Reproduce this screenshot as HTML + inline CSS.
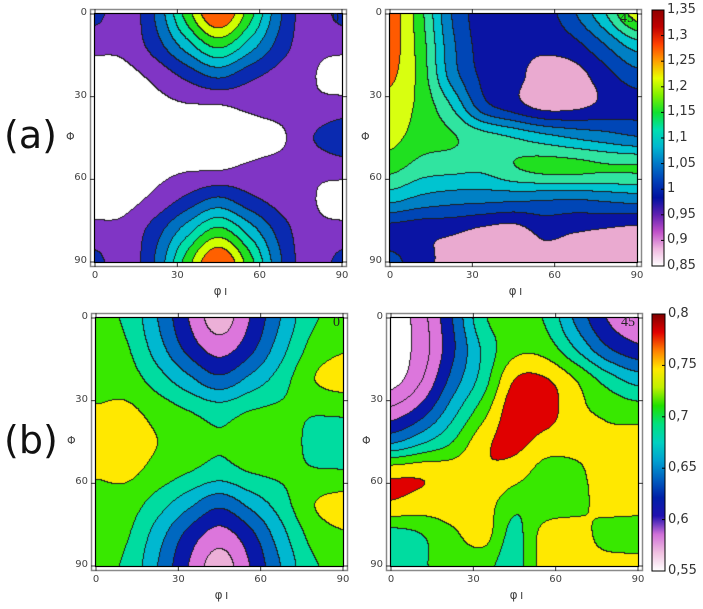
<!DOCTYPE html>
<html><head><meta charset="utf-8">
<style>
body{margin:0;background:#fff;}
#root{position:relative;width:703px;height:609px;overflow:hidden;background:#fff;font-family:"Liberation Sans","DejaVu Sans",sans-serif;}
.abs{position:absolute;}
.tick{position:absolute;font-size:10px;color:#444;font-family:"DejaVu Sans","Liberation Sans",sans-serif;}
.big{position:absolute;font-size:38px;color:#111;font-family:"DejaVu Sans","Liberation Sans",sans-serif;}
.cbl{position:absolute;font-size:13px;color:#333;font-family:"DejaVu Sans","Liberation Sans",sans-serif;}
.corner{position:absolute;font-size:14px;color:#222;font-family:"Liberation Serif",serif;}
canvas{position:absolute;}
</style></head>
<body>
<div id="root">
<svg id="frames" class="abs" style="left:0;top:0" width="703" height="609"></svg>
<div class="big" style="left:4px;top:113px">(a)</div>
<div class="big" style="left:4px;top:418px">(b)</div>
</div>
<script>
// ---- data: 9x9 grids, rows Phi = 0..90, cols phi1 = 0..90 (step 11.25) ----
const gridAxis = [0, 11.25, 22.5, 33.75, 45, 56.25, 67.5, 78.75, 90];
const tickLabels = [0, 30, 60, 90];
const cbarTicksA = ["1,35","1,3","1,25","1,2","1,15","1,1","1,05","1","0,95","0,9","0,85"];
const cbarTicksB = ["0,8","0,75","0,7","0,65","0,6","0,55"];
const levelsA = [0.85, 0.9, 0.95, 1.0, 1.05, 1.1, 1.15, 1.2, 1.25, 1.3];
const levelsB = [0.55, 0.575, 0.6, 0.625, 0.65, 0.675, 0.7, 0.725, 0.75, 0.775, 0.8];
const gridA0 = [
 [0.965,0.92,1.01,1.175,1.30,1.175,1.01,0.92,0.965],
 [0.915,0.915,0.98,1.08,1.165,1.08,0.98,0.915,0.915],
 [0.875,0.885,0.915,0.965,1.01,0.965,0.93,0.905,0.88],
 [0.865,0.87,0.885,0.895,0.895,0.91,0.92,0.91,0.92],
 [0.86,0.86,0.87,0.88,0.875,0.875,0.89,0.945,0.985],
 [0.865,0.87,0.885,0.895,0.895,0.91,0.92,0.91,0.92],
 [0.875,0.885,0.915,0.965,1.01,0.965,0.93,0.905,0.88],
 [0.915,0.915,0.98,1.08,1.165,1.08,0.98,0.915,0.915],
 [0.965,0.92,1.01,1.175,1.30,1.175,1.01,0.92,0.965]];
const gridA45 = [
 [1.28,1.165,1.0,0.925,0.91,0.925,0.995,1.095,1.225],
 [1.275,1.175,1.015,0.93,0.915,0.91,0.935,1.0,1.075],
 [1.26,1.18,1.03,0.94,0.915,0.88,0.88,0.93,0.98],
 [1.23,1.185,1.10,0.975,0.925,0.885,0.89,0.915,0.93],
 [1.215,1.175,1.155,1.125,1.10,1.07,1.045,1.025,1.005],
 [1.165,1.125,1.115,1.11,1.145,1.165,1.165,1.155,1.155],
 [1.065,1.035,1.02,1.015,1.01,1.005,1.0,1.01,1.02],
 [0.93,0.915,0.91,0.89,0.88,0.915,0.905,0.895,0.885],
 [0.965,0.92,0.88,0.865,0.87,0.885,0.87,0.865,0.86]];
const gridB0 = [
 [0.73,0.72,0.675,0.625,0.5875,0.625,0.675,0.72,0.73],
 [0.735,0.7275,0.6875,0.6425,0.615,0.6425,0.69,0.7325,0.7475],
 [0.74,0.7375,0.7125,0.6825,0.6575,0.6825,0.7125,0.7475,0.76],
 [0.7525,0.755,0.74,0.725,0.7125,0.725,0.73,0.7275,0.73],
 [0.76,0.7625,0.75,0.7425,0.7275,0.7425,0.7375,0.72,0.7125],
 [0.7525,0.755,0.74,0.725,0.7125,0.725,0.73,0.7275,0.7275],
 [0.74,0.7375,0.7125,0.6825,0.6575,0.6825,0.7125,0.7475,0.76],
 [0.735,0.7275,0.6875,0.6425,0.615,0.6425,0.69,0.7325,0.7475],
 [0.73,0.72,0.675,0.625,0.5875,0.625,0.675,0.72,0.73]];
const gridB45 = [
 [0.5575,0.59,0.65,0.72,0.7375,0.7225,0.67,0.625,0.605],
 [0.56,0.5875,0.645,0.705,0.7425,0.74,0.70,0.655,0.6325],
 [0.565,0.60,0.66,0.7125,0.775,0.7775,0.75,0.715,0.69],
 [0.6075,0.6375,0.69,0.74,0.79,0.7875,0.7575,0.745,0.7375],
 [0.67,0.695,0.725,0.7675,0.7825,0.765,0.7575,0.755,0.76],
 [0.7675,0.77,0.765,0.7725,0.7625,0.74,0.745,0.7625,0.7725],
 [0.7725,0.765,0.765,0.7625,0.7325,0.735,0.74,0.7625,0.7625],
 [0.715,0.725,0.745,0.76,0.7175,0.76,0.765,0.7375,0.735],
 [0.7075,0.7225,0.7325,0.735,0.7125,0.7625,0.765,0.7625,0.76]];
const colorsA0 = ["#ffffff","#8035c5","#0a2ab0","#0070c0","#00bcd0","#00e0a8","#20e020","#d0ff00","#ff6000"];
const colorsA45 = ["#eaaad0","#0a14a4","#0046b6","#0080c4","#00c4d0","#30e4a0","#20e020","#d8ff10","#ff5a00"];
const colorsB0 = ["#ffffff","#ecb0d8","#dc76dc","#0818a8","#0068c0","#00b8d0","#00dca0","#38e800","#ffe800","#e00000"];
const colorsB45 = ["#ffffff","#dc76dc","#dc76dc","#0818a8","#0068c0","#00b8d0","#00dca0","#38e800","#ffe800","#e00000"];

const panels = [
 {name:"panel-a-0", grid:gridA0, levels:levelsA, colors:colorsA0, x:95, y:14, w:247, h:248, corner:"0", row:0},
 {name:"panel-a-45", grid:gridA45, levels:levelsA, colors:colorsA45, x:390, y:14, w:247, h:248, corner:"45", row:0},
 {name:"panel-b-0", grid:gridB0, levels:levelsB, colors:colorsB0, x:96, y:318, w:247, h:248, corner:"0", row:1},
 {name:"panel-b-45", grid:gridB45, levels:levelsB, colors:colorsB45, x:391, y:318, w:247, h:248, corner:"45", row:1}
];

const root = document.getElementById('root');
const svg = document.getElementById('frames');
const NS = "http://www.w3.org/2000/svg";

function cr(p0,p1,p2,p3,t){
  return 0.5*((2*p1)+(-p0+p2)*t+(2*p0-5*p1+4*p2-p3)*t*t+(-p0+3*p1-3*p2+p3)*t*t*t);
}
function sample(g,u,v){
  const n=g.length-1;
  const i=Math.min(Math.floor(u),n-1), j=Math.min(Math.floor(v),n-1);
  const tu=u-i, tv=v-j;
  const cl=k=>Math.max(0,Math.min(n,k));
  const rows=[];
  for(let dj=-1;dj<=2;dj++){
    const r=g[cl(j+dj)];
    rows.push(cr(r[cl(i-1)],r[cl(i)],r[cl(i+1)],r[cl(i+2)],tu));
  }
  return cr(rows[0],rows[1],rows[2],rows[3],tv);
}
function hex(c){return [parseInt(c.slice(1,3),16),parseInt(c.slice(3,5),16),parseInt(c.slice(5,7),16)];}
function xScale(p,phi){return p.x + phi/90*p.w;}
function yScale(p,Phi){return p.y + Phi/90*p.h;}

function line(x1,y1,x2,y2,stroke,sw,name){
  const l=document.createElementNS(NS,'line');
  l.setAttribute('x1',x1);l.setAttribute('y1',y1);l.setAttribute('x2',x2);l.setAttribute('y2',y2);
  l.setAttribute('stroke',stroke);l.setAttribute('stroke-width',sw);
  
  
  svg.appendChild(l);
}
function rect(x,y,w,h,stroke,sw,fill,name){
  const r=document.createElementNS(NS,'rect');
  r.setAttribute('x',x);r.setAttribute('y',y);r.setAttribute('width',w);r.setAttribute('height',h);
  r.setAttribute('stroke',stroke);r.setAttribute('stroke-width',sw);r.setAttribute('fill',fill);
  
  
  svg.appendChild(r);
}
function label(cls,text,left,top,style,name){
  const d=document.createElement('div');
  d.className=cls; d.textContent=text;
  d.style.left=left+'px'; d.style.top=top+'px';
  if(style) d.style.cssText+=style;
  
  
  root.appendChild(d);
  return d;
}

panels.forEach(p=>{
  const cv=document.createElement('canvas');
  cv.width=p.w; cv.height=p.h;
  cv.style.left=p.x+'px'; cv.style.top=p.y+'px';
  
  
  root.insertBefore(cv, svg);
  const ctx=cv.getContext('2d');
  const img=ctx.createImageData(p.w,p.h);
  const n=p.grid.length-1;
  const base=p.levels[0], step=p.levels[1]-p.levels[0], nc=p.colors.length;
  const rgb=p.colors.map(hex);
  const band=new Int16Array(p.w*p.h);
  for(let py=0;py<p.h;py++){
    for(let px=0;px<p.w;px++){
      const val=sample(p.grid, px/(p.w-1)*n, py/(p.h-1)*n);
      let b=Math.floor((val-base)/step);
      b=Math.max(0,Math.min(nc-1,b));
      band[py*p.w+px]=b;
    }
  }
  for(let py=0;py<p.h;py++){
    for(let px=0;px<p.w;px++){
      const k=py*p.w+px, b=band[k];
      let edge=false;
      if(px<p.w-1 && band[k+1]!==b) edge=true;
      if(py<p.h-1 && band[k+p.w]!==b) edge=true;
      const c=edge?[30,30,30]:rgb[b];
      img.data[k*4]=c[0];img.data[k*4+1]=c[1];img.data[k*4+2]=c[2];img.data[k*4+3]=255;
    }
  }
  ctx.putImageData(img,0,0);

  rect(p.x-4.5,p.y-4.5,p.w+9,p.h+9,"#8a8a8a",1.5,"none",p.name+"-outer-frame");
  rect(p.x-0.5,p.y-0.5,p.w+1,p.h+1,"#000",1.2,"none",p.name+"-plot-border");
  tickLabels.forEach(t=>{
    const tx=xScale(p,t), ty=yScale(p,t);
    line(tx,p.y-5,tx,p.y-1,"#333",1,p.name+"-x-tick-top");
    line(tx,p.y+p.h+1,tx,p.y+p.h+5,"#333",1,p.name+"-x-tick");
    line(p.x-5,ty,p.x-1,ty,"#333",1,p.name+"-y-tick");
    line(p.x+p.w+1,ty,p.x+p.w+5,ty,"#333",1,p.name+"-y-tick-right");
    label('tick',String(t),tx-12,p.y+p.h+8,"width:24px;text-align:center;",p.name+"-x-tick-label");
    label('tick',String(t),p.x-34,ty-7,"width:26px;text-align:right;",p.name+"-y-tick-label");
  });
  label('tick',"\u03C6\u2009\u0131",p.x+p.w/2-10,p.y+p.h+22,"width:24px;text-align:center;font-size:12px;",p.name+"-x-axis-title");
  label('tick',"\u03A6",p.x-29,p.y+p.h/2-8,"font-size:11px;",p.name+"-y-axis-title");
  label('corner',p.corner,p.x+p.w-(p.corner.length*7)-3,p.y-3,"",p.name+"-section-angle");
});

function colorbar(x,y,w,h,stops,ticks,name){
  let defs=svg.querySelector('defs'); if(!defs){defs=document.createElementNS(NS,'defs');svg.appendChild(defs);}
  const g=document.createElementNS(NS,'linearGradient');
  g.setAttribute('id',name+'-grad');g.setAttribute('x1','0');g.setAttribute('y1','1');g.setAttribute('x2','0');g.setAttribute('y2','0');
  stops.forEach((c,i)=>{const s=document.createElementNS(NS,'stop');s.setAttribute('offset',(i/(stops.length-1)));s.setAttribute('stop-color',c);g.appendChild(s);});
  defs.appendChild(g);
  rect(x,y,w,h,"#000",1,"url(#"+name+"-grad)",name);
  ticks.forEach((t,i)=>{
    const ty=y+i/(ticks.length-1)*h;
    line(x+w-3,ty,x+w,ty,"#000",1,name+"-tick");
    label('cbl',t,x+w+3,ty-8,"",name+"-tick-label");
  });
}
colorbar(652,10,12,256,["#ffffff","#f0b8e0","#c050c8","#6020b0","#0010a0","#0040b8","#0078c8","#00b8d0","#00e0b0","#10e030","#80f000","#e8ff00","#ffa000","#ff4000","#c00000","#900000"],cbarTicksA,"colorbar-a");
colorbar(652,314,13,257,["#ffffff","#f0c0e0","#d070d8","#2010b0","#0020a8","#0060c0","#00a0d0","#00d0c0","#00e080","#20e000","#c0f000","#ffe800","#ff8000","#e00000","#800000"],cbarTicksB,"colorbar-b");
</script>
</body></html>
